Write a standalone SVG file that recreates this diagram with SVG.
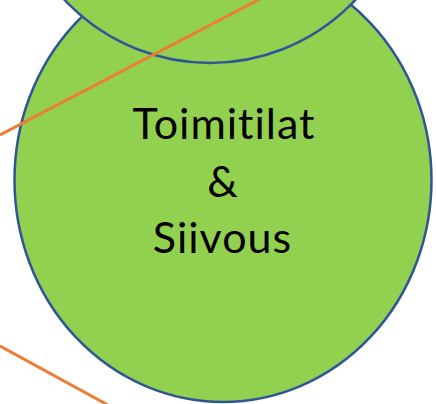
<svg xmlns="http://www.w3.org/2000/svg" width="436" height="404" viewBox="0 0 436 404">
<style>
.node{fill:#92D050;stroke:#2F5597;stroke-width:2.5}
.conn{stroke:#ED7D31;stroke-width:3;fill:none}
.lbl{font-family:Lato,"Open Sans","Liberation Sans",sans-serif;font-size:43px;fill:#000;text-anchor:middle;letter-spacing:1px;font-variant-ligatures:none;font-feature-settings:"liga" 0}
</style>
<rect width="436" height="404" fill="#fff"/>
<g id="node-main">
<ellipse class="node" cx="223" cy="180" rx="208.5" ry="222"/>
<text class="lbl" x="224" y="139">Toimitilat</text>
<text class="lbl" x="223" y="196.5">&amp;</text>
<text class="lbl" x="222.5" y="253">Siivous</text>
</g>
<g id="node-top">
<circle class="node" cx="210" cy="-136" r="199"/>
</g>
<g id="connectors">
<line class="conn" x1="0" y1="135" x2="260" y2="-1"/>
<line class="conn" x1="0" y1="346" x2="108" y2="405"/>
</g>
</svg>
